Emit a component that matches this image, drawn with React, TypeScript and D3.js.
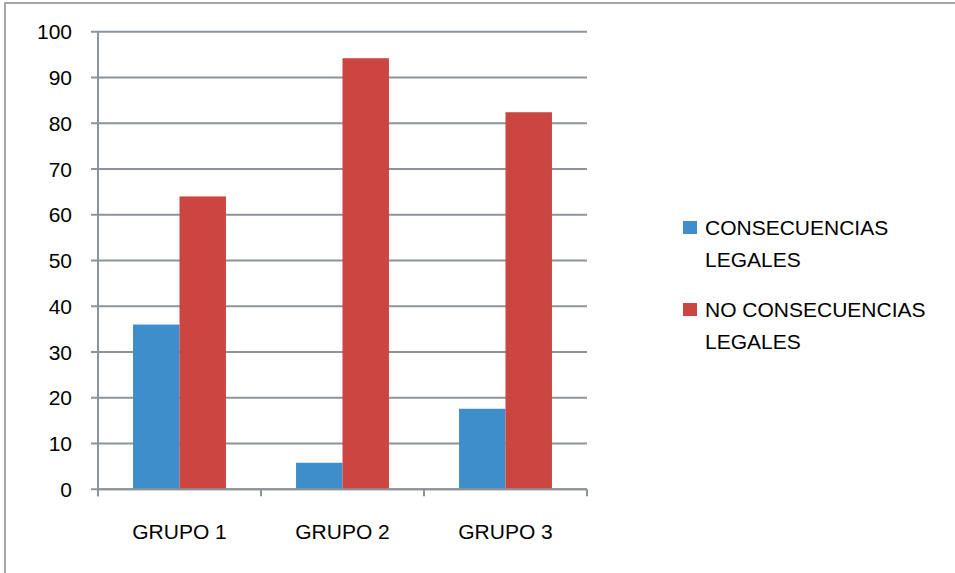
import React from "react";
import * as d3 from "d3";

const groups = ["GRUPO 1", "GRUPO 2", "GRUPO 3"];
const seriesNames = ["CONSECUENCIAS LEGALES", "NO CONSECUENCIAS LEGALES"];
const legendLines = [["CONSECUENCIAS", "LEGALES"], ["NO CONSECUENCIAS", "LEGALES"]];
const consecuencias = [36, 5.8, 17.6];
const noConsecuencias = [64, 94.2, 82.4];
const yTicks = [0, 10, 20, 30, 40, 50, 60, 70, 80, 90, 100];

const colors = ["#3d8eca", "#cb4541"];
const gridColor = "#8c939b";
const font = "'Liberation Sans', Arial, sans-serif";

export default function App() {
  const W = 955;
  const H = 573;
  const left = 98, right = 587, top = 31.7, bottom = 489.3;

  const y = d3.scaleLinear().domain([0, 100]).range([bottom, top]);
  const x0 = d3.scaleBand<string>().domain(groups).range([left, right]).paddingInner(0.43).paddingOuter(0.215);
  const x1 = d3.scaleBand<string>().domain(seriesNames).range([0, x0.bandwidth()]);
  const values = [consecuencias, noConsecuencias];

  const boundaries = [left, ...groups.map((g) => (x0(g) as number) - x0.step() * 0.215 + x0.step())];

  return (
    <svg width={W} height={H} style={{ position: "absolute", left: 0, top: 0, background: "#fff" }}>
      {/* frame */}
      <path d={`M5,${H + 5} L5,3 L${W + 5},3`} fill="none" stroke="#a3a7ab" strokeWidth={2} />

      {/* gridlines + y ticks */}
      {yTicks.map((t) => (
        <g key={t}>
          <line x1={left - 7} x2={right} y1={y(t)} y2={y(t)} stroke={gridColor} strokeWidth={2} />
          <text x={72} y={y(t)} dy="0.36em" textAnchor="end" fontFamily={font} fontSize={21} fill="#000">
            {t}
          </text>
        </g>
      ))}

      {/* bars */}
      {groups.map((g, i) =>
        seriesNames.map((s, j) => (
          <rect
            key={g + s}
            x={(x0(g) as number) + (x1(s) as number)}
            y={y(values[j][i])}
            width={x1.bandwidth()}
            height={y(0) - y(values[j][i])}
            fill={colors[j]}
          />
        ))
      )}

      {/* axes */}
      <line x1={left} x2={left} y1={top} y2={bottom + 7} stroke={gridColor} strokeWidth={2} />
      <line x1={left} x2={right} y1={bottom} y2={bottom} stroke={gridColor} strokeWidth={2} />
      {boundaries.map((b, i) => (
        <line key={i} x1={b} x2={b} y1={bottom} y2={bottom + 7} stroke={gridColor} strokeWidth={2} />
      ))}

      {groups.map((g) => (
        <text
          key={g}
          x={(x0(g) as number) + x0.bandwidth() / 2}
          y={539}
          textAnchor="middle"
          fontFamily={font}
          fontSize={21}
          fill="#000"
        >
          {g}
        </text>
      ))}

      {/* legend */}
      {seriesNames.map((s, j) => (
        <g key={s} transform={`translate(0, ${j * 82})`}>
          <rect x={683} y={221} width={14} height={13} fill={colors[j]} />
          {legendLines[j].map((line, k) => (
            <text key={k} x={705} y={235 + k * 31.5} fontFamily={font} fontSize={21} fill="#000">
              {line}
            </text>
          ))}
        </g>
      ))}
    </svg>
  );
}
